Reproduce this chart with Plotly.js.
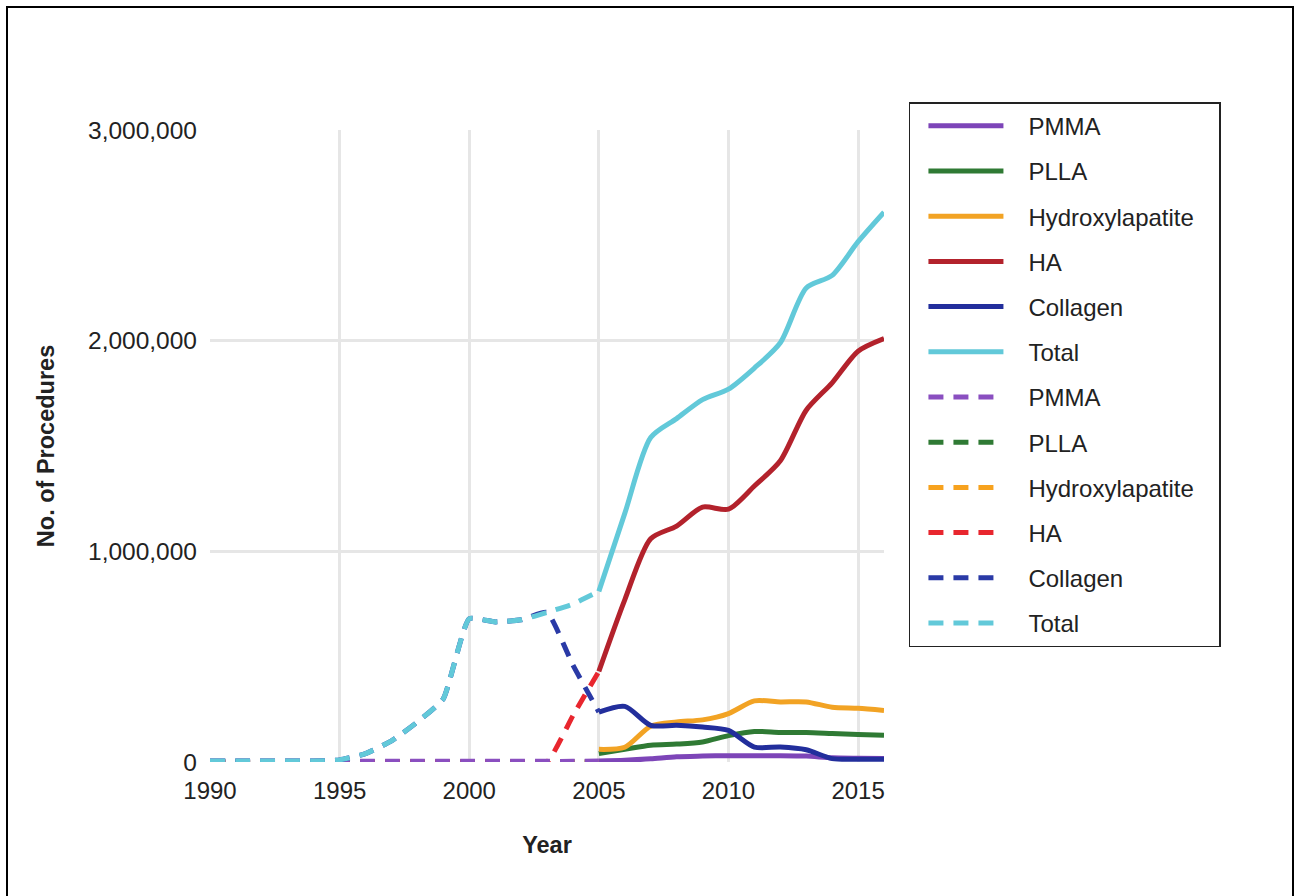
<!DOCTYPE html>
<html>
<head>
<meta charset="utf-8">
<script src="https://cdn.plot.ly/plotly-3.0.1.min.js"></script>
<style>
  html, body { margin: 0; padding: 0; background: #fff; overflow: hidden; }
  #wrap { position: relative; width: 1294px; height: 896px; }
  #chart { position: absolute; left: 0; top: 0; width: 1294px; height: 896px; }
  #frame { position: absolute; left: 6px; top: 6px; width: 1284px; height: 900px; border: 2px solid #000; pointer-events: none; }
</style>
</head>
<body>
<div id="wrap">
  <div id="chart"></div>
  <div id="frame"></div>
</div>
<script>
// ---- data ----
const yearsSolid = [2005, 2006, 2007, 2008, 2009, 2010, 2011, 2012, 2013, 2014, 2015, 2016];
const yearsDashed = [1990, 1991, 1992, 1993, 1994, 1995, 1996, 1997, 1998, 1999, 2000, 2001, 2002, 2003, 2004, 2005];

const pmmaSolid = [5000, 8000, 15000, 25000, 28000, 30000, 30000, 30000, 28000, 20000, 18000, 17000];
const pllaSolid = [40000, 60000, 80000, 85000, 95000, 125000, 145000, 140000, 140000, 135000, 130000, 127000];
const hydroxSolid = [60000, 70000, 170000, 190000, 200000, 230000, 290000, 285000, 285000, 260000, 255000, 245000];
const haSolid = [430000, 770000, 1060000, 1120000, 1210000, 1200000, 1310000, 1430000, 1670000, 1800000, 1950000, 2010000];
const collagenSolid = [237000, 264000, 174000, 174000, 166000, 150000, 71000, 71000, 58000, 16000, 13000, 13000];
const totalSolid = [810000, 1180000, 1540000, 1630000, 1720000, 1770000, 1870000, 1990000, 2250000, 2310000, 2470000, 2610000];

const pmmaDashed = [3000, 3000, 3000, 3000, 3000, 3000, 3000, 3000, 3000, 3000, 3000, 3000, 3000, 3000, 3000, 5000];
const pllaDashed = [0, 0, 0, 0, 0, 0, 0, 0, 0, 0, 0, 0, 0, 0, 0, 0];
const hydroxDashed = [0, 0, 0, 0, 0, 0, 0, 0, 0, 0, 0, 0, 0, 0, 0, 0];
const haDashed = [0, 0, 0, 0, 0, 0, 0, 0, 0, 0, 0, 0, 0, 0, 220000, 430000];
const collagenDashed = [5000, 5000, 5000, 5000, 5000, 10000, 40000, 100000, 190000, 300000, 680000, 665000, 675000, 710000, 460000, 237000];
const totalDashed = [5000, 5000, 5000, 5000, 5000, 10000, 40000, 100000, 190000, 300000, 680000, 665000, 675000, 710000, 750000, 810000];

const seriesNames = ['PMMA', 'PLLA', 'Hydroxylapatite', 'HA', 'Collagen', 'Total'];
const solidColors = ['#7d45b8', '#2f7a34', '#f2a324', '#b3222c', '#222e9c', '#62c9d9'];
const dashedColors = ['#8a4fc0', '#2f7a34', '#f7a21e', '#e8262e', '#2a3aa6', '#62c9d9'];

const solidData = [pmmaSolid, pllaSolid, hydroxSolid, haSolid, collagenSolid, totalSolid];
const dashedData = [pmmaDashed, pllaDashed, hydroxDashed, haDashed, collagenDashed, totalDashed];

// drawing order of the dashed (historical) series; legend order is kept by legendrank
const dashedDrawOrder = [1, 2, 3, 0, 4, 5];

// ---- traces ----
const lead = '\u00A0\u00A0\u00A0';
const trail = '\u00A0\u00A0\u00A0';
const traces = [];
seriesNames.forEach((name, i) => {
  traces.push({
    type: 'scatter', mode: 'lines', name: lead + name + trail,
    x: yearsSolid, y: solidData[i],
    legendgroup: 's' + i, legendrank: 100 + i,
    line: { color: solidColors[i], width: 5, shape: 'spline', smoothing: 0.75 },
    hoverinfo: 'x+y'
  });
});
dashedDrawOrder.forEach((i) => {
  traces.push({
    type: 'scatter', mode: 'lines', name: lead + seriesNames[i] + trail,
    x: yearsDashed, y: dashedData[i],
    legendgroup: 'd' + i, legendrank: 200 + i,
    line: { color: dashedColors[i], width: 5, dash: '15px,10px', shape: 'spline', smoothing: 0.45 },
    hoverinfo: 'x+y'
  });
});

const fontFam = '"Liberation Sans", Arial, Helvetica, sans-serif';

const layout = {
  width: 1294, height: 896,
  paper_bgcolor: '#ffffff', plot_bgcolor: '#ffffff',
  margin: { l: 210, r: 410, t: 130, b: 134, pad: 0 },
  font: { family: fontFam, size: 24, color: '#222' },
  showlegend: true,
  xaxis: {
    range: [1990, 2016], tick0: 1990, dtick: 5,
    showgrid: true, gridcolor: '#e6e6e6', gridwidth: 3,
    zeroline: false, showline: false, ticks: '',
    tickfont: { family: fontFam, size: 24, color: '#222' },
    ticklabelstandoff: 12,
    title: { text: '<b>Year</b>', font: { family: fontFam, size: 23.5, color: '#222' }, standoff: 33 },
    automargin: false, fixedrange: true
  },
  yaxis: {
    range: [0, 3000000], dtick: 1000000, tickformat: ',d',
    showgrid: true, gridcolor: '#e6e6e6', gridwidth: 3,
    zeroline: false, showline: false, ticks: '',
    tickfont: { family: fontFam, size: 24.5, color: '#222' },
    ticklabelstandoff: 12,
    title: { text: '<b>No. of Procedures</b>', font: { family: fontFam, size: 23.5, color: '#222' }, standoff: 26 },
    automargin: false, fixedrange: true
  },
  legend: {
    x: 1.037, y: 1.044, xanchor: 'left', yanchor: 'top',
    bordercolor: '#222', borderwidth: 1.5, bgcolor: '#fff',
    font: { family: fontFam, size: 24, color: '#222' },
    tracegroupgap: 11, itemwidth: 75, indentation: 13,
    traceorder: 'grouped', maxheight: 760
  }
};

Plotly.newPlot('chart', traces, layout, { staticPlot: true, displayModeBar: false });
</script>
</body>
</html>
